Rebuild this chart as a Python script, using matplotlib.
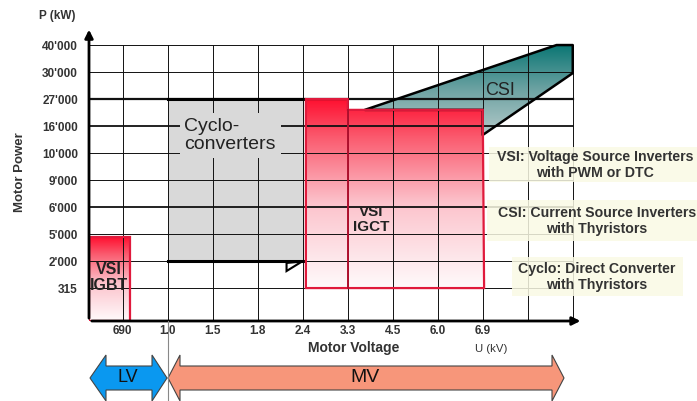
import numpy as np
import matplotlib
matplotlib.use("Agg")
import matplotlib.pyplot as plt
from matplotlib.patches import Polygon, Rectangle
from matplotlib.colors import LinearSegmentedColormap

plt.rcParams['font.family'] = ['Liberation Sans', 'DejaVu Sans']

# Axis categories
voltage_labels = ["690", "1.0", "1.5", "1.8", "2.4", "3.3", "4.5", "6.0", "6.9"]
power_labels = ["315", "2'000", "5'000", "6'000", "9'000", "10'000",
                "16'000", "27'000", "30'000", "40'000"]

# Converter regions, in category slots (x: voltage slot, y: power slot)
igbt_x = [0.25, 1.16]
igbt_y = [-0.22, 2.89]
cyclo_x = [2.0, 5.02]
cyclo_y = [2.0, 8.0]
igct_x = [5.07, 6.0, 9.0, 9.03]
igct_y = [1.0, 7.6, 8.0]
csi_x = [6.38, 10.64, 11.0, 11.0, 9.0, 9.0]
csi_y = [7.6, 10.0, 10.0, 8.96, 6.67, 7.6]

W, H = 697, 401
fig = plt.figure(figsize=(W / 100, H / 100), dpi=100)
fig.patch.set_facecolor("white")

# main plotting area in pixel layout
px_l, px_r, px_b, px_t = 89, 590, 321, 22
ax = fig.add_axes([px_l / W, (H - px_b) / H, (px_r - px_l) / W, (px_b - px_t) / H])
x_lo, y_lo = 0.25, -0.22
x_hi = x_lo + (px_r - px_l) / 45.0
y_hi = y_lo + (px_b - px_t) / 27.0

RED_STOPS = [(0.0, "#fffafb"), (0.45, "#fcc3cc"), (0.8, "#fa5a6e"), (1.0, "#ff1030")]
TEAL_STOPS = [(0.0, "#b4caca"), (0.5, "#6ea3a3"), (1.0, "#0b7674")]
EDGE_RED = "#e01a3c"


def gradient_fill(patch, stops, x0, x1, y0, y1, z):
    cmap = LinearSegmentedColormap.from_list("grad", stops)
    grad = np.linspace(0, 1, 256).reshape(-1, 1)
    im = ax.imshow(grad, cmap=cmap, extent=[x0, x1, y0, y1], origin="lower",
                   aspect="auto", zorder=z, interpolation="bilinear")
    im.set_clip_path(patch)
    return im


# Cycloconverter region (grey)
cyc = Rectangle((cyclo_x[0], cyclo_y[0]), cyclo_x[1] - cyclo_x[0], cyclo_y[1] - cyclo_y[0],
                facecolor="#d9d9d9", edgecolor="none", zorder=1)
ax.add_patch(cyc)

# CSI region (teal gradient)
csi_pts = list(zip(csi_x, csi_y))
csi = Polygon(csi_pts, closed=True, facecolor="none", edgecolor="none", zorder=1)
ax.add_patch(csi)
gradient_fill(csi, TEAL_STOPS, min(csi_x), max(csi_x), min(csi_y), max(csi_y), 1)

# VSI IGCT region (red gradient)
igct_pts = [(igct_x[0], igct_y[0]), (igct_x[0], igct_y[2]), (igct_x[1], igct_y[2]),
            (igct_x[1], igct_y[1]), (igct_x[2], igct_y[1]), (igct_x[3], igct_y[0])]
igct = Polygon(igct_pts, closed=True, facecolor="none", edgecolor="none", zorder=1)
ax.add_patch(igct)
gradient_fill(igct, RED_STOPS, igct_x[0], igct_x[3], igct_y[0], igct_y[2], 1.5)

# VSI IGBT region (red gradient)
igbt = Rectangle((igbt_x[0], igbt_y[0]), igbt_x[1] - igbt_x[0], igbt_y[1] - igbt_y[0],
                 facecolor="none", edgecolor="none", zorder=1)
ax.add_patch(igbt)
gradient_fill(igbt, RED_STOPS, igbt_x[0], igbt_x[1], igbt_y[0], igbt_y[1], 1.5)

# Grid
n_v = len(voltage_labels)
for i in range(1, n_v + 3):
    ax.plot([i, i], [y_lo, len(power_labels)], color="#111111", lw=0.7, zorder=3)
heavy = {8: 1.6, 7: 1.3, 4: 1.3}
for j in range(1, len(power_labels) + 1):
    ax.plot([x_lo, n_v + 2], [j, j], color="#111111", lw=heavy.get(j, 0.7), zorder=3)

# Outlines
ax.add_patch(Polygon(csi_pts, closed=True, facecolor="none", edgecolor="black",
                     lw=1.8, joinstyle="round", zorder=4))
ax.plot(cyclo_x, [cyclo_y[1]] * 2, color="black", lw=2.2, zorder=4)
ax.plot(cyclo_x, [cyclo_y[0]] * 2, color="black", lw=2.2, zorder=4)
ax.add_patch(Polygon([(4.64, 1.93), (4.64, 1.63), (4.98, 1.98)], closed=True,
                     facecolor="white", edgecolor="black", lw=1.5, zorder=4))
ax.add_patch(Polygon(igct_pts, closed=True, facecolor="none", edgecolor=EDGE_RED,
                     lw=1.6, zorder=5))
ax.plot([igct_x[1], igct_x[1]], [igct_y[0], igct_y[1]], color="#b0102e", lw=1.4, zorder=5)
ax.add_patch(Rectangle((igbt_x[0], igbt_y[0]), igbt_x[1] - igbt_x[0], igbt_y[1] - igbt_y[0],
                       facecolor="none", edgecolor=EDGE_RED, lw=1.6, zorder=5))

# Axis arrows
ax.annotate("", xy=(x_hi - 0.15, y_lo), xytext=(x_lo, y_lo),
            arrowprops=dict(arrowstyle="-|>", color="black", lw=2, mutation_scale=12),
            zorder=6)
ax.annotate("", xy=(x_lo, y_hi - 0.18), xytext=(x_lo, y_lo),
            arrowprops=dict(arrowstyle="-|>", color="black", lw=2, mutation_scale=12),
            zorder=6)

# Region labels
ax.text(2.37, 6.65, "Cyclo-\nconverters", fontsize=14, color="#222222", ha="left",
        va="center", linespacing=1.15, zorder=6,
        bbox=dict(boxstyle="square,pad=0.25", facecolor="#d9d9d9", edgecolor="none"))
ax.text(9.38, 8.32, "CSI", fontsize=13, color="#222222", ha="center", va="center", zorder=6)
ax.text(6.51, 3.55, "VSI\nIGCT", fontsize=11, fontweight="bold", color="#222222",
        ha="center", va="center", linespacing=1.1, zorder=6)
ax.text(0.69, 1.4, "VSI\nIGBT", fontsize=11.5, fontweight="bold", color="#222222",
        ha="center", va="center", linespacing=1.1, zorder=6)

ax.set_xlim(x_lo, x_hi)
ax.set_ylim(y_lo, y_hi)
ax.set_xticks(range(1, n_v + 1))
ax.set_xticklabels(voltage_labels, fontsize=8.5, fontweight="bold", color="#333333")
ax.set_yticks(range(1, len(power_labels) + 1))
ax.set_yticklabels(power_labels, fontsize=8.5, fontweight="bold", color="#333333")
ax.tick_params(length=0)
ax.tick_params(axis="y", pad=8)
ax.tick_params(axis="x", pad=3)
for s in ax.spines.values():
    s.set_visible(False)
ax.set_facecolor("none")

# Overlay in pixel coordinates for labels, notes and voltage-class arrows
ov = fig.add_axes([0, 0, 1, 1], zorder=10)
ov.set_xlim(0, W)
ov.set_ylim(H, 0)
ov.axis("off")
ov.patch.set_alpha(0)

ov.text(57, 16, "P (kW)", fontsize=8.5, fontweight="bold", color="#333333",
        ha="center", va="center")
ov.text(20, 172, "Motor Power", fontsize=9.5, fontweight="bold", color="#333333",
        rotation=90, ha="center", va="center")
ov.text(354, 348, "Motor Voltage", fontsize=10, fontweight="bold", color="#333333",
        ha="center", va="center")
ov.text(491, 349, "U (kV)", fontsize=8.2, color="#333333", ha="center", va="center")

notes = [
    ((489, 147, 697, 182), (595, 165), "VSI: Voltage Source Inverters\nwith PWM or DTC"),
    ((487, 200, 697, 241), (597, 221), "CSI: Current Source Inverters\nwith Thyristors"),
    ((512, 257, 683, 296), (597, 277), "Cyclo: Direct Converter\nwith Thyristors"),
]
for (x0, y0, x1, y1), (tx, ty), txt in notes:
    ov.add_patch(Rectangle((x0, y0), x1 - x0, y1 - y0, facecolor="#fafae4",
                           edgecolor="none", alpha=0.85))
    ov.text(tx, ty, txt, fontsize=10.2, fontweight="bold", color="#333333",
            ha="center", va="center", linespacing=1.15)

# voltage class arrows
ov.plot([168, 168], [321, 401], color="#888888", lw=0.8)
lv = [(90, 378), (106, 355), (106, 366), (152, 366), (152, 355), (167, 378),
      (152, 401), (152, 390), (106, 390), (106, 401)]
ov.add_patch(Polygon(lv, closed=True, facecolor="#0a98f0", edgecolor="#444444", lw=0.8))
mv = [(168, 378), (180, 355), (180, 366), (552, 366), (552, 355), (564, 378),
      (552, 401), (552, 390), (180, 390), (180, 401)]
ov.add_patch(Polygon(mv, closed=True, facecolor="#f7967a", edgecolor="#444444", lw=0.8))
ov.text(128, 378, "LV", fontsize=13, color="#111111", ha="center", va="center")
ov.text(365, 378, "MV", fontsize=14, color="#111111", ha="center", va="center")

fig.savefig("out.png", dpi=100)
